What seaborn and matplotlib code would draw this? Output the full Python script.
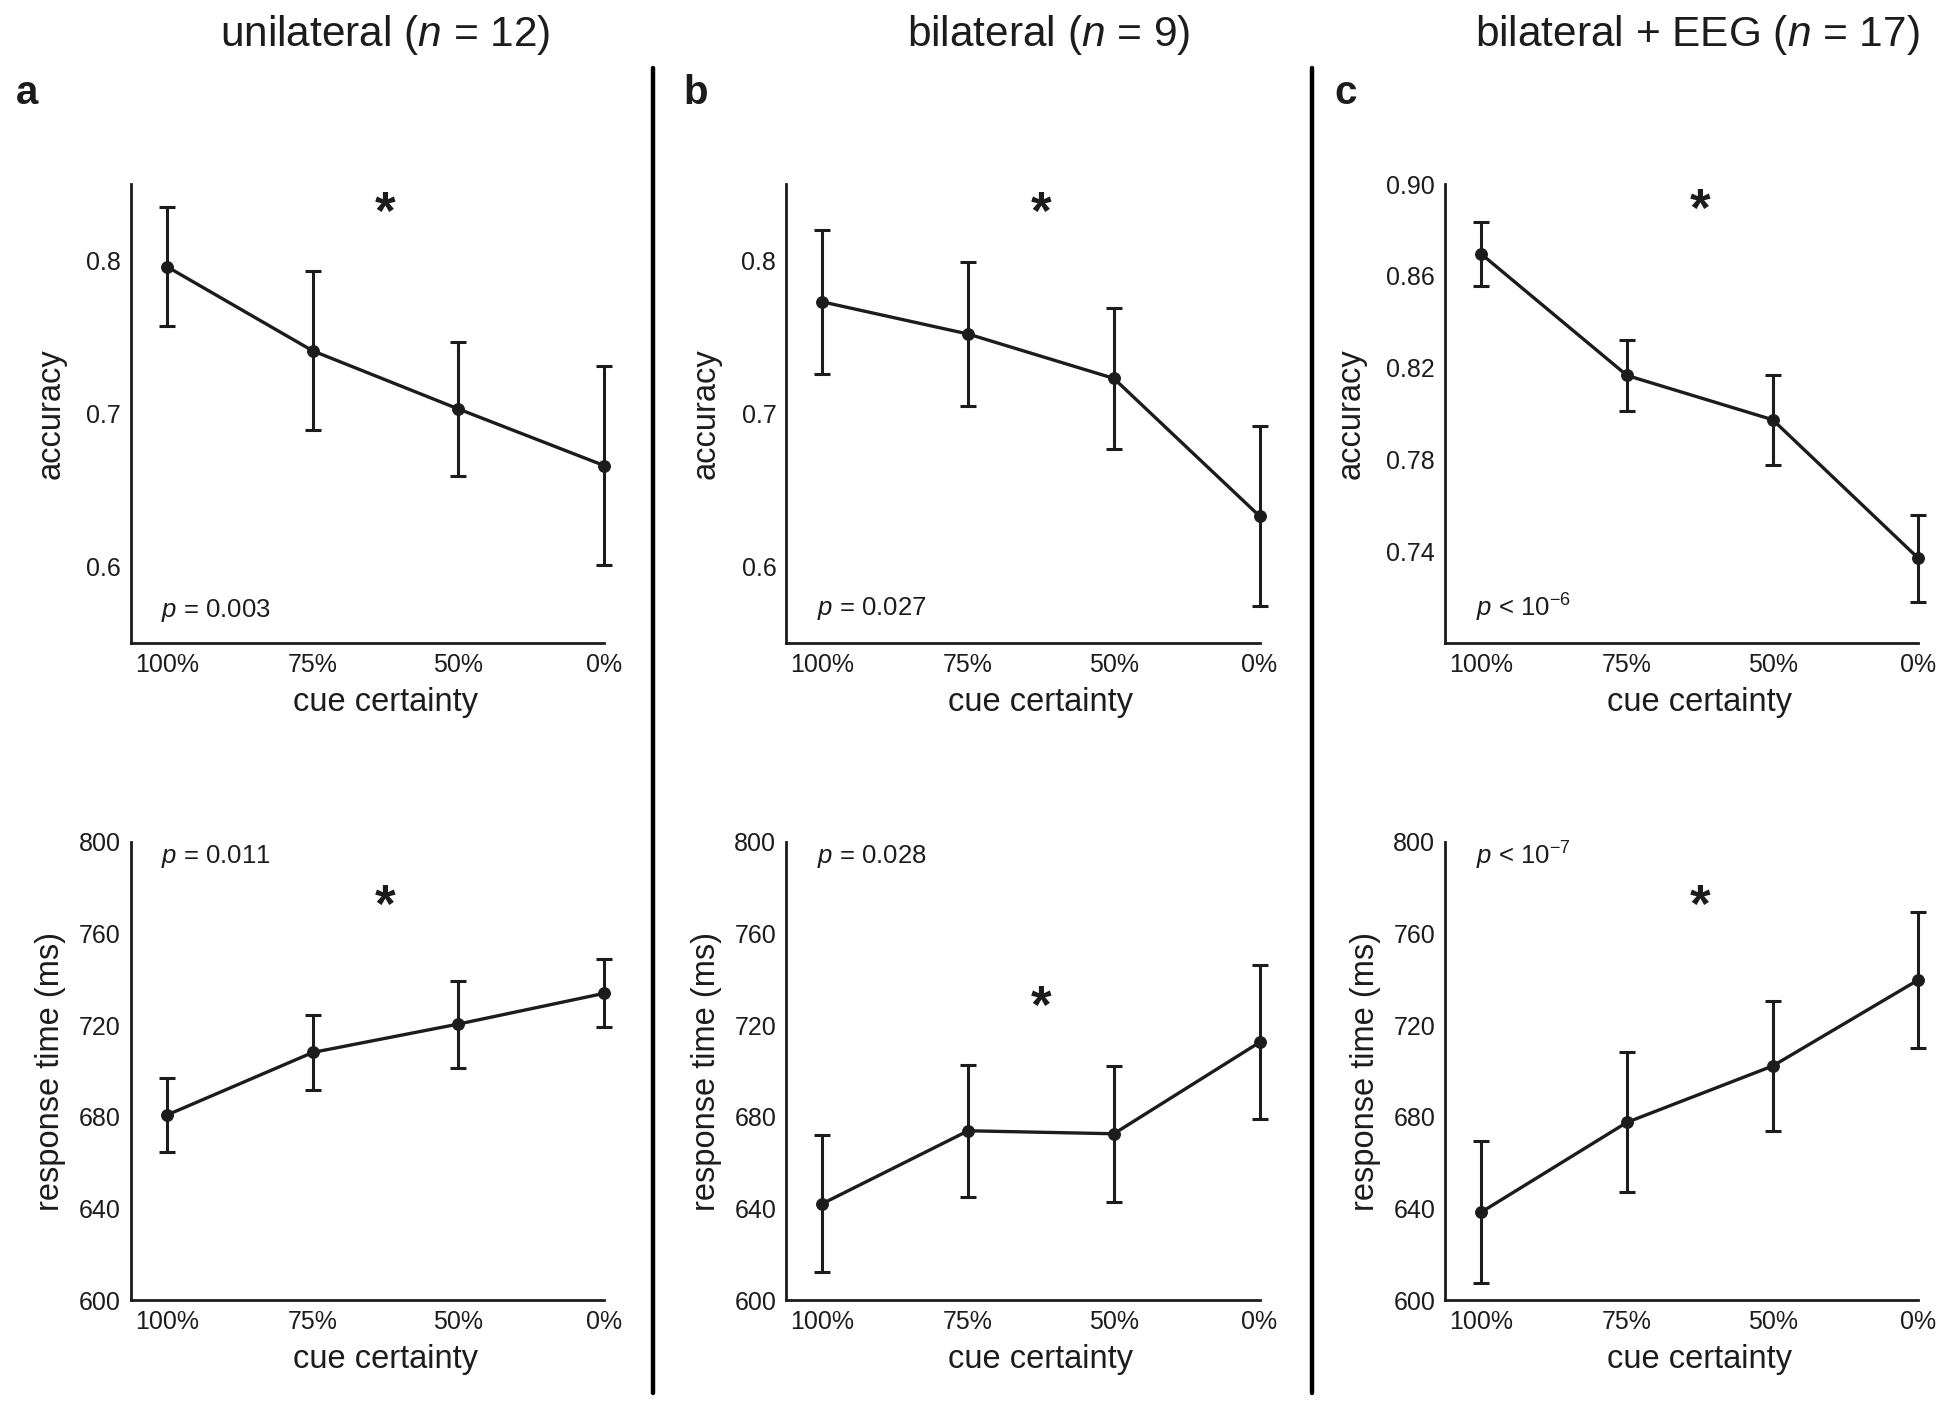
import numpy as np
import pandas as pd
import matplotlib
matplotlib.use("Agg")
import matplotlib.pyplot as plt
import seaborn as sns

sns.set_style("white")
plt.rcParams['font.family'] = ['Liberation Sans', 'DejaVu Sans']
plt.rcParams['mathtext.fontset'] = 'custom'
plt.rcParams['mathtext.rm'] = 'Liberation Sans'
plt.rcParams['mathtext.it'] = 'Liberation Sans:italic'
plt.rcParams['mathtext.bf'] = 'Liberation Sans:bold'

# ---------------- data ----------------
categories = ["100%", "75%", "50%", "0%"]
group_titles = ["unilateral ($n$ = 12)", "bilateral ($n$ = 9)", "bilateral + EEG ($n$ = 17)"]
panel_letters = ["a", "b", "c"]

acc_unilateral = [0.796, 0.741, 0.703, 0.666]
acc_unilateral_err = [0.039, 0.052, 0.044, 0.065]
acc_bilateral = [0.773, 0.752, 0.723, 0.633]
acc_bilateral_err = [0.047, 0.047, 0.046, 0.059]
acc_eeg = [0.8695, 0.8166, 0.7973, 0.7369]
acc_eeg_err = [0.014, 0.0154, 0.0197, 0.019]

rt_unilateral = [680.8, 708.1, 720.5, 733.9]
rt_unilateral_err = [16.3, 16.2, 19.0, 14.9]
rt_bilateral = [642.1, 673.9, 672.6, 712.5]
rt_bilateral_err = [30.0, 28.7, 29.7, 33.6]
rt_eeg = [638.4, 677.6, 702.2, 739.8]
rt_eeg_err = [31.0, 30.5, 28.5, 29.8]

p_acc = ["$p$ = 0.003", "$p$ = 0.027", "$p$ < 10$^{-6}$"]
p_rt = ["$p$ = 0.011", "$p$ = 0.028", "$p$ < 10$^{-7}$"]

acc_series = [(acc_unilateral, acc_unilateral_err), (acc_bilateral, acc_bilateral_err), (acc_eeg, acc_eeg_err)]
rt_series = [(rt_unilateral, rt_unilateral_err), (rt_bilateral, rt_bilateral_err), (rt_eeg, rt_eeg_err)]

acc_ylims = [(0.55, 0.85), (0.55, 0.85), (0.70, 0.90)]
acc_ticks = [np.arange(0.55, 0.851, 0.05), np.arange(0.55, 0.851, 0.05), np.arange(0.70, 0.901, 0.04)]
acc_star_y = [0.830, 0.830, 0.888]
acc_p_y = [0.571, 0.5725, 0.7153]
rt_star_y = [771.4, 726.9, 771.4]
rt_p_y = [793.5, 793.5, 794.0]
rt_ticks = np.arange(600, 801, 40)

# ---------------- layout ----------------
ink = "#1c1c1c"
fig = plt.figure(figsize=(19.5, 14.12), dpi=100)
lefts = [0.067, 0.4031, 0.741]
width = 0.2428
top_bottom, top_h = 0.5446, 0.325
bot_bottom, bot_h = 0.0793, 0.3244
XMIN, XMAX = -0.25, 3.0

x = np.arange(len(categories))


def style_axes(ax):
    sns.despine(ax=ax)
    for s in ["left", "bottom"]:
        ax.spines[s].set_linewidth(2.0)
        ax.spines[s].set_color(ink)
    ax.tick_params(direction="in", length=6, width=2.0, colors=ink,
                   labelsize=18, pad=7)
    ax.set_xlim(XMIN, XMAX)
    ax.set_xticks(x)
    ax.set_xticklabels(categories)
    ax.set_xlabel("cue certainty", fontsize=23.5, color=ink)
    # centre label under the data range
    ax.xaxis.set_label_coords((x.mean() - XMIN) / (XMAX - XMIN), -0.095)


def draw(ax, vals, errs):
    df = pd.DataFrame({"x": x, "y": vals})
    ax.errorbar(x, vals, yerr=errs, fmt="none", ecolor=ink, elinewidth=2.2,
                capsize=6, capthick=2.2, clip_on=False, zorder=3)
    sns.lineplot(data=df, x="x", y="y", ax=ax, color=ink, linewidth=2.4,
                 marker="o", markersize=8.5, markeredgecolor=ink,
                 markerfacecolor=ink, clip_on=False, zorder=4)


for i in range(3):
    # accuracy
    ax = fig.add_axes([lefts[i], top_bottom, width, top_h])
    vals, errs = acc_series[i]
    draw(ax, vals, errs)
    style_axes(ax)
    ax.set_ylim(*acc_ylims[i])
    ticks = acc_ticks[i]
    ax.set_yticks(ticks)
    if i < 2:
        labels = [f"{t:.1f}" if abs(round(t * 10) - t * 10) < 1e-6 else "" for t in ticks]
    else:
        labels = [f"{t:.2f}" if t > 0.71 else "" for t in ticks]
    ax.set_yticklabels(labels)
    ax.set_ylabel("accuracy", fontsize=23.5, color=ink, labelpad=14)
    ax.text(1.5, acc_star_y[i], "*", fontsize=38, fontweight="bold",
            ha="center", va="center", color=ink)
    ax.text(-0.04, acc_p_y[i], p_acc[i], fontsize=18.5, ha="left", va="center", color=ink)

    # response time
    ax2 = fig.add_axes([lefts[i], bot_bottom, width, bot_h])
    vals, errs = rt_series[i]
    draw(ax2, vals, errs)
    style_axes(ax2)
    ax2.set_ylim(600, 800)
    ax2.set_yticks(rt_ticks)
    ax2.set_yticklabels([str(t) for t in rt_ticks])
    ax2.set_ylabel("response time (ms)", fontsize=23.5, color=ink, labelpad=9)
    ax2.text(1.5, rt_star_y[i], "*", fontsize=38, fontweight="bold",
             ha="center", va="center", color=ink)
    ax2.text(-0.04, rt_p_y[i], p_rt[i], fontsize=18.5, ha="left", va="center", color=ink)

# titles and panel letters
title_x = [0.1977, 0.5375, 0.8705]
letter_x = [0.014, 0.357, 0.690]
for i in range(3):
    fig.text(title_x[i], 0.9753, group_titles[i], fontsize=30.5, ha="center",
             va="center", color=ink)
    fig.text(letter_x[i], 0.934, panel_letters[i], fontsize=29, fontweight="bold",
             ha="center", va="center", color=ink)

# column separators
for sx in [0.3349, 0.6728]:
    fig.add_artist(plt.Line2D([sx, sx], [0.0135, 0.952], transform=fig.transFigure,
                              color="black", linewidth=3.2))

fig.savefig("out.png", dpi=100, facecolor="white")
